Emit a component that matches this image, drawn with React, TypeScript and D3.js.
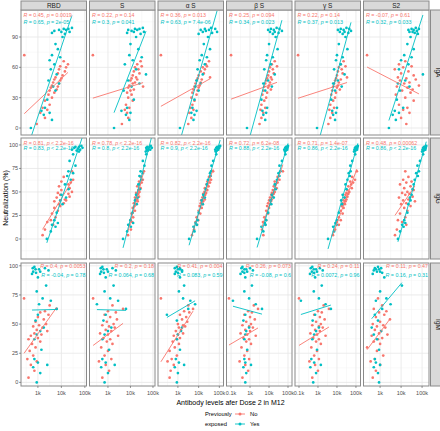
import React from "react";
import * as d3 from "d3";

// ---------- categories ----------
const antigens = ["RBD", "S", "α S", "β S", "γ S", "S2"];
const isotypes = ["IgA", "IgG", "IgM"];
const groupNames = ["No", "Yes"];
const groupColors = ["#F8766D", "#00BFC4"];

// ---------- neutralization (%) per subject (shared by all panels) ----------
const neutNo = [72, 66, 63, 61, 60, 58, 56, 54, 52, 50, 49, 48, 47, 45, 44, 42, 41, 40, 38, 37, 35, 33, 30, 27, 23, 20, 18, 15, 10, 4];
const neutYes = [99, 98, 98, 97, 97, 96, 95, 95, 94, 93, 90, 83, 78, 72, 70, 67, 63, 58, 53, 47, 44, 41, 37, 28, 20, 17, 15, 13, 8, 0];

// ---------- antibody levels (log10) per subject ----------
const igaRbdNo = [2.42, 4.1, 4.28, 3.95, 4.2, 3.9, 4.15, 3.85, 4.05, 3.75, 4.0, 3.7, 3.95, 3.65, 3.9, 3.6, 3.85, 3.55, 3.8, 3.5, 3.7, 3.45, 3.6, 3.3, 3.5, 3.2, 3.4, 3.1, 3.3, 2.95];
const igaRbdYes = [4.45, 4.1, 4.3, 3.9, 4.2, 3.7, 4.35, 4.0, 3.6, 4.15, 4.05, 3.75, 3.85, 3.6, 3.95, 3.5, 3.7, 3.55, 3.8, 3.45, 3.9, 3.65, 3.75, 3.4, 3.3, 3.15, 3.5, 3.25, 3.6, 2.7];
const igaSNo = [2.33, 4.45, 4.3, 4.5, 4.2, 4.35, 4.15, 4.4, 4.1, 4.25, 4.05, 4.3, 4.0, 4.2, 4.1, 3.95, 4.56, 3.9, 4.15, 4.0, 3.85, 4.05, 3.9, 4.1, 3.8, 3.95, 3.75, 3.85, 3.9, 3.62];
const igaSYes = [4.55, 4.2, 4.4, 3.9, 4.3, 4.05, 4.6, 4.15, 3.85, 4.45, 4.25, 4.0, 4.35, 3.95, 4.5, 4.1, 3.75, 4.25, 4.69, 3.9, 4.4, 4.05, 3.7, 4.15, 3.85, 3.6, 4.0, 3.8, 3.95, 3.27];
const igaAlphaNo = [2.18, 4.5, 4.35, 4.4, 4.2, 4.3, 4.1, 4.25, 4.0, 4.55, 3.95, 4.15, 3.9, 4.1, 3.85, 4.05, 3.8, 4.0, 3.75, 3.95, 3.7, 3.9, 3.65, 3.8, 3.7, 3.6, 3.75, 3.55, 3.65, 3.5];
const igaAlphaYes = [4.6, 4.3, 4.8, 4.1, 4.5, 4.35, 4.89, 4.2, 4.65, 4.0, 4.45, 4.25, 4.55, 4.15, 4.4, 4.05, 4.3, 3.95, 4.2, 3.9, 4.1, 3.85, 4.0, 3.8, 3.7, 3.9, 3.65, 3.8, 3.75, 3.1];
const igaBetaNo = [2.0, 4.3, 4.15, 4.42, 4.05, 4.2, 4.0, 4.25, 3.95, 4.1, 3.9, 4.15, 3.85, 4.05, 3.8, 4.0, 3.75, 3.95, 4.1, 3.7, 3.9, 3.65, 3.85, 3.75, 3.6, 3.8, 3.55, 3.7, 3.6, 3.5];
const igaBetaYes = [4.4, 4.1, 4.55, 4.25, 3.95, 4.68, 4.3, 4.05, 4.5, 4.2, 4.35, 4.0, 4.45, 3.9, 4.2, 3.85, 4.1, 3.75, 4.3, 3.95, 3.7, 4.15, 3.8, 3.6, 3.9, 3.65, 3.85, 3.7, 3.8, 2.84];
const igaGammaNo = [1.95, 4.35, 4.2, 4.45, 4.1, 4.25, 4.05, 4.3, 4.0, 4.53, 3.95, 4.2, 3.9, 4.1, 3.85, 4.05, 3.8, 4.0, 4.15, 3.75, 3.95, 3.7, 3.9, 3.8, 3.65, 3.85, 3.6, 3.75, 3.65, 3.55];
const igaGammaYes = [4.5, 4.2, 4.65, 4.35, 4.05, 4.74, 4.4, 4.15, 4.6, 4.3, 4.45, 4.1, 4.55, 4.0, 4.3, 3.95, 4.2, 3.85, 4.4, 4.05, 3.8, 4.25, 3.9, 3.7, 4.0, 3.75, 3.95, 3.8, 3.9, 2.95];
const igaS2No = [2.38, 4.2, 3.9, 4.5, 4.1, 3.7, 4.35, 4.0, 4.6, 3.85, 4.25, 4.7, 3.95, 4.4, 4.15, 4.85, 3.8, 4.3, 4.55, 4.05, 4.45, 3.75, 4.2, 4.6, 3.9, 4.3, 4.1, 4.4, 4.0, 4.25];
const igaS2Yes = [4.7, 4.5, 4.85, 4.6, 4.35, 4.75, 4.55, 4.4, 4.65, 4.8, 4.45, 4.3, 4.6, 4.15, 4.5, 4.0, 4.35, 3.9, 5.04, 4.2, 3.85, 4.4, 3.95, 3.8, 4.1, 3.7, 3.9, 3.6, 3.75, 3.42];

const iggRbdNo = [4.45, 4.1, 4.5, 4.0, 4.4, 4.3, 3.9, 4.35, 4.0, 4.45, 3.85, 4.3, 3.95, 4.35, 3.8, 4.15, 4.2, 3.7, 4.1, 3.9, 3.95, 3.7, 3.85, 3.6, 3.75, 3.55, 3.4, 3.65, 3.3, 3.2];
const iggRbdYes = [4.85, 4.6, 4.75, 4.9, 4.55, 4.7, 4.8, 4.45, 4.65, 4.75, 4.5, 4.35, 4.6, 4.3, 4.5, 4.25, 4.4, 4.15, 4.3, 4.0, 4.2, 3.95, 4.05, 3.8, 3.7, 3.85, 3.6, 3.75, 3.55, 3.38];
const iggSNo = [4.6, 4.45, 4.55, 4.38, 4.5, 4.4, 4.3, 4.45, 4.35, 4.4, 4.25, 4.35, 4.28, 4.38, 4.2, 4.3, 4.22, 4.32, 4.15, 4.25, 4.18, 4.1, 4.2, 4.05, 4.12, 4.0, 4.08, 3.95, 4.02, 3.89];
const iggSYes = [4.9, 4.75, 4.85, 4.7, 4.95, 4.8, 4.72, 4.88, 4.78, 4.68, 4.7, 4.55, 4.62, 4.45, 4.55, 4.4, 4.48, 4.35, 4.42, 4.25, 4.32, 4.2, 4.28, 4.1, 4.0, 4.12, 3.9, 4.02, 3.85, 3.67];
const iggAlphaNo = [4.7, 4.5, 4.6, 4.42, 4.55, 4.38, 4.48, 4.3, 4.42, 4.28, 4.36, 4.22, 4.32, 4.25, 4.18, 4.3, 4.12, 4.22, 4.1, 4.2, 4.05, 4.15, 4.0, 4.08, 3.9, 3.98, 3.85, 3.92, 3.78, 3.68];
const iggAlphaYes = [5.04, 4.9, 4.97, 4.85, 5.0, 4.92, 4.8, 4.95, 4.88, 4.82, 4.85, 4.7, 4.62, 4.6, 4.55, 4.58, 4.45, 4.4, 4.35, 4.22, 4.3, 4.15, 4.2, 4.0, 3.95, 3.85, 3.92, 3.75, 3.8, 3.54];
const iggBetaNo = [4.73, 4.45, 4.55, 4.3, 4.45, 4.35, 4.25, 4.4, 4.2, 4.3, 4.15, 4.25, 4.12, 4.2, 4.05, 4.15, 4.0, 4.1, 3.95, 4.05, 3.9, 4.0, 3.85, 3.95, 3.75, 3.85, 3.68, 3.8, 3.63, 3.7];
const iggBetaYes = [5.0, 4.9, 4.95, 4.85, 4.98, 4.92, 4.8, 4.96, 4.88, 4.84, 4.86, 4.68, 4.55, 4.6, 4.5, 4.55, 4.42, 4.3, 4.35, 4.15, 4.25, 4.08, 4.12, 3.95, 3.85, 3.78, 3.82, 3.6, 3.7, 3.37];
const iggGammaNo = [5.05, 4.8, 4.95, 4.7, 4.85, 4.75, 4.6, 4.78, 4.55, 4.65, 4.5, 4.6, 4.45, 4.55, 4.4, 4.5, 4.35, 4.45, 4.3, 4.42, 4.25, 4.35, 4.2, 4.3, 4.1, 4.2, 4.0, 4.1, 3.9, 3.79];
const iggGammaYes = [5.1, 5.0, 5.05, 4.95, 5.08, 5.02, 4.92, 5.06, 4.98, 4.9, 4.96, 4.8, 4.7, 4.72, 4.62, 4.68, 4.55, 4.45, 4.5, 4.3, 4.4, 4.22, 4.28, 4.1, 4.0, 3.92, 3.98, 3.8, 3.85, 3.53];
const iggS2No = [4.2, 4.35, 4.1, 4.5, 4.25, 3.95, 4.45, 4.15, 4.6, 4.3, 4.05, 4.4, 4.2, 4.55, 3.9, 4.35, 4.1, 4.66, 4.25, 4.0, 4.45, 4.15, 4.3, 3.95, 4.2, 3.85, 4.05, 4.25, 3.8, 3.71];
const iggS2Yes = [5.2, 5.1, 5.15, 5.05, 5.18, 5.12, 5.02, 5.16, 5.08, 5.0, 5.05, 4.9, 4.78, 4.85, 4.72, 4.8, 4.65, 4.6, 4.55, 4.5, 4.42, 4.45, 4.35, 4.3, 4.15, 4.2, 4.05, 4.12, 3.95, 3.85];

const igmRbdNo = [2.41, 3.5, 3.79, 3.3, 3.1, 3.45, 3.0, 3.25, 2.9, 3.35, 3.05, 2.8, 3.2, 2.95, 3.4, 2.85, 3.15, 2.7, 3.0, 2.6, 3.1, 2.75, 2.9, 2.65, 2.8, 2.55, 2.95, 2.7, 2.85, 2.6];
const igmRbdYes = [2.85, 3.3, 2.78, 3.05, 2.9, 3.45, 2.8, 3.1, 2.92, 2.75, 3.0, 3.35, 2.95, 3.2, 3.55, 3.05, 3.8, 3.0, 2.9, 3.25, 3.1, 2.95, 2.85, 3.15, 2.85, 3.0, 3.4, 2.8, 3.1, 2.95];
const igmSNo = [2.34, 3.2, 3.67, 3.0, 3.35, 2.85, 3.1, 3.4, 2.95, 3.25, 2.75, 3.05, 3.3, 2.9, 3.15, 2.65, 3.0, 3.45, 2.8, 3.1, 2.95, 3.2, 2.7, 3.0, 2.85, 3.15, 2.6, 2.9, 3.05, 2.75];
const igmSYes = [2.75, 3.2, 2.68, 2.95, 2.8, 3.35, 2.7, 3.0, 2.82, 2.65, 2.9, 3.25, 2.85, 3.1, 3.45, 2.51, 3.8, 2.9, 2.8, 3.15, 3.0, 2.85, 2.75, 3.05, 2.75, 2.9, 3.3, 2.7, 3.0, 2.85];
const igmAlphaNo = [2.18, 3.5, 3.73, 3.3, 3.55, 3.1, 3.4, 3.2, 3.45, 3.0, 3.25, 3.35, 3.05, 3.15, 2.9, 3.25, 3.0, 2.8, 3.1, 2.95, 2.75, 3.05, 2.85, 2.6, 2.95, 2.7, 2.5, 2.8, 2.65, 2.6];
const igmAlphaYes = [2.95, 3.1, 2.85, 3.1, 3.0, 3.2, 2.9, 3.2, 3.0, 2.85, 3.1, 3.3, 3.05, 3.25, 3.6, 3.83, 3.5, 2.47, 2.95, 3.2, 3.15, 3.0, 2.95, 3.1, 2.9, 3.05, 3.3, 2.85, 3.0, 2.95];
const igmBetaNo = [1.89, 3.2, 3.42, 2.9, 3.1, 2.7, 3.0, 3.25, 2.8, 3.05, 2.6, 2.95, 3.15, 2.75, 3.0, 2.5, 2.85, 3.3, 2.65, 2.95, 2.8, 3.05, 2.55, 2.85, 2.7, 2.95, 2.45, 2.75, 2.9, 2.6];
const igmBetaYes = [2.6, 3.0, 2.55, 2.8, 2.7, 3.15, 2.6, 2.85, 2.7, 2.5, 2.75, 3.1, 2.7, 2.95, 2.1, 3.3, 3.63, 2.75, 2.65, 2.95, 2.8, 2.75, 2.7, 2.85, 2.7, 2.75, 3.05, 2.65, 2.8, 2.75];
const igmGammaNo = [2.0, 3.3, 3.58, 3.0, 3.2, 2.8, 3.1, 3.35, 2.9, 3.15, 2.7, 3.05, 3.25, 2.85, 3.1, 2.6, 2.95, 3.4, 2.75, 3.05, 2.9, 3.15, 2.65, 2.95, 2.8, 3.05, 2.55, 2.85, 3.0, 2.7];
const igmGammaYes = [2.7, 3.1, 2.62, 2.9, 2.78, 3.25, 2.68, 2.95, 2.8, 2.58, 2.85, 3.2, 2.78, 3.05, 2.1, 3.4, 3.68, 2.85, 2.72, 3.05, 2.9, 2.8, 2.7, 2.95, 2.65, 2.8, 3.15, 2.6, 2.9, 2.75];
const igmS2No = [2.9, 3.1, 2.7, 3.3, 2.95, 3.2, 2.8, 3.47, 3.0, 2.65, 3.15, 2.85, 3.25, 2.75, 3.05, 2.95, 3.35, 2.6, 3.1, 2.9, 2.7, 3.0, 2.38, 2.85, 3.15, 2.75, 2.55, 3.0, 2.8, 2.65];
const igmS2Yes = [2.9, 2.75, 3.05, 2.8, 2.95, 2.7, 3.0, 2.85, 3.1, 2.65, 3.2, 4.04, 3.0, 3.3, 2.8, 3.5, 3.1, 2.75, 2.9, 2.6, 3.05, 2.7, 2.85, 2.95, 2.75, 2.8, 3.0, 2.7, 2.9, 2.95];

// ---------- correlation labels ----------
const igaRNo = ["0.45", "0.22", "0.36", "0.25", "0.22", "-0.07"];
const igaPNo = ["= 0.0019", "= 0.14", "= 0.013", "= 0.094", "= 0.14", "= 0.61"];
const igaRYes = ["0.65", "0.3", "0.63", "0.34", "0.37", "0.32"];
const igaPYes = ["= 2e-05", "= 0.041", "= 7.4e-06", "= 0.023", "= 0.013", "= 0.033"];
const iggRNo = ["0.81", "0.78", "0.82", "0.72", "0.71", "0.48"];
const iggPNo = ["< 2.2e-16", "< 2.2e-16", "< 2.2e-16", "= 6.2e-08", "= 1.4e-07", "= 0.00062"];
const iggRYes = ["0.83", "0.8", "0.9", "0.88", "0.86", "0.86"];
const iggPYes = ["< 2.2e-16", "< 2.2e-16", "< 2.2e-16", "< 2.2e-16", "< 2.2e-16", "< 2.2e-16"];
const igmRNo = ["0.4", "0.2", "0.41", "0.26", "0.24", "0.11"];
const igmPNo = ["= 0.0053", "= 0.18", "= 0.004", "= 0.073", "= 0.11", "= 0.47"];
const igmRYes = ["-0.04", "0.064", "0.083", "-0.08", "0.0072", "0.16"];
const igmPYes = ["= 0.78", "= 0.68", "= 0.59", "= 0.6", "= 0.96", "= 0.31"];

// ---------- axis settings ----------
const xTickValues = [100, 1000, 10000, 100000];
const xTickLabels = ["0.1k", "1k", "10k", "100k"];
const yTicksIgA = [0, 30, 60, 90];
const yTicksIgGM = [0, 25, 50, 75, 100];

// table built from the arrays above
const abNo = [
  [igaRbdNo, igaSNo, igaAlphaNo, igaBetaNo, igaGammaNo, igaS2No],
  [iggRbdNo, iggSNo, iggAlphaNo, iggBetaNo, iggGammaNo, iggS2No],
  [igmRbdNo, igmSNo, igmAlphaNo, igmBetaNo, igmGammaNo, igmS2No],
];
const abYes = [
  [igaRbdYes, igaSYes, igaAlphaYes, igaBetaYes, igaGammaYes, igaS2Yes],
  [iggRbdYes, iggSYes, iggAlphaYes, iggBetaYes, iggGammaYes, iggS2Yes],
  [igmRbdYes, igmSYes, igmAlphaYes, igmBetaYes, igmGammaYes, igmS2Yes],
];
const rLabels = [
  [igaRNo, igaRYes],
  [iggRNo, iggRYes],
  [igmRNo, igmRYes],
];
const pLabels = [
  [igaPNo, igaPYes],
  [iggPNo, iggPYes],
  [igmPNo, igmPYes],
];

// ---------- layout ----------
const FONT = "'Liberation Sans', Arial, Helvetica, sans-serif";
const panelLeft0 = 21;
const panelPitch = 68.5;
const panelW = 65.5;
const rowTop = [10, 138, 263];
const rowBottom = [135, 259, 386];
const colLogDomain = [
  [2.28, 5.07],
  [2.18, 5.09],
  [2.04, 5.2],
  [1.76, 5.21],
  [1.79, 5.24],
  [2.21, 5.33],
];
const rowDomain = [
  [-6.9, 116.7],
  [-21.3, 107.4],
  [-3.1, 102.4],
];
const rowTicks = [yTicksIgA, yTicksIgGM, yTicksIgGM];

function fit(xs: number[], ys: number[]) {
  const mx = d3.mean(xs) as number;
  const my = d3.mean(ys) as number;
  let sxy = 0;
  let sxx = 0;
  xs.forEach((x, i) => {
    sxy += (x - mx) * (ys[i] - my);
    sxx += (x - mx) * (x - mx);
  });
  const b = sxy / sxx;
  const a = my - b * mx;
  const x0 = d3.min(xs) as number;
  const x1 = d3.max(xs) as number;
  return [
    [x0, a + b * x0],
    [x1, a + b * x1],
  ];
}

function CorLabel({ x, y, r, p, color, anchor }: any) {
  return (
    <text x={x} y={y} fill={color} fontSize={5.3} textAnchor={anchor} fontFamily={FONT}>
      <tspan fontStyle="italic">R</tspan>
      {` = ${r}, `}
      <tspan fontStyle="italic">p</tspan>
      {` ${p}`}
    </text>
  );
}

export default function App() {
  const panels: any[] = [];
  isotypes.forEach((iso, r) => {
    antigens.forEach((ag, c) => {
      const left = panelLeft0 + c * panelPitch;
      const right = left + panelW;
      const top = rowTop[r];
      const bottom = rowBottom[r];
      const [lo, hi] = colLogDomain[c];
      const x = d3.scaleLog().domain([Math.pow(10, lo), Math.pow(10, hi)]).range([left, right]);
      const y = d3.scaleLinear().domain(rowDomain[r]).range([bottom, top]);
      const majorX = xTickValues.filter((v) => v >= x.domain()[0] && v <= x.domain()[1]);
      const minorX = [2.5, 3.5, 4.5, 5.5]
        .map((e) => Math.pow(10, e))
        .filter((v) => v >= x.domain()[0] && v <= x.domain()[1]);
      const ticks = rowTicks[r];
      const step = ticks[1] - ticks[0];
      const minorY = [ticks[0] - step / 2, ...ticks.map((t) => t + step / 2)].filter(
        (v) => v >= rowDomain[r][0] && v <= rowDomain[r][1]
      );
      const clipId = `clip-${r}-${c}`;
      const groupsData = [
        { xs: abNo[r][c], ys: neutNo, color: groupColors[0] },
        { xs: abYes[r][c], ys: neutYes, color: groupColors[1] },
      ];
      const line = d3
        .line<number[]>()
        .x((d) => x(Math.pow(10, d[0])))
        .y((d) => y(d[1]));
      panels.push(
        <g key={clipId}>
          <defs>
            <clipPath id={clipId}>
              <rect x={left} y={top} width={right - left} height={bottom - top} />
            </clipPath>
          </defs>
          <rect x={left} y={top} width={right - left} height={bottom - top} fill="#fff" />
          {minorX.map((v) => (
            <line key={"mx" + v} x1={x(v)} x2={x(v)} y1={top} y2={bottom} stroke="#f2f2f2" strokeWidth={0.5} />
          ))}
          {minorY.map((v) => (
            <line key={"my" + v} x1={left} x2={right} y1={y(v)} y2={y(v)} stroke="#f2f2f2" strokeWidth={0.5} />
          ))}
          {majorX.map((v) => (
            <line key={"Mx" + v} x1={x(v)} x2={x(v)} y1={top} y2={bottom} stroke="#e6e6e6" strokeWidth={0.8} />
          ))}
          {ticks.map((v) => (
            <line key={"My" + v} x1={left} x2={right} y1={y(v)} y2={y(v)} stroke="#e6e6e6" strokeWidth={0.8} />
          ))}
          <g clipPath={`url(#${clipId})`}>
            {groupsData.map((g, gi) =>
              g.xs.map((lx, i) => (
                <circle key={`p${gi}-${i}`} cx={x(Math.pow(10, lx))} cy={y(g.ys[i])} r={1.35} fill={g.color} />
              ))
            )}
            {groupsData.map((g, gi) => (
              <path key={`l${gi}`} d={line(fit(g.xs, g.ys)) as string} stroke={g.color} strokeWidth={0.9} fill="none" />
            ))}
            {r < 2 ? (
              <>
                <CorLabel x={left + 2.5} y={top + (r === 0 ? 6.5 : 7)} r={rLabels[r][0][c]} p={pLabels[r][0][c]} color={groupColors[0]} anchor="start" />
                <CorLabel x={left + 2.5} y={top + (r === 0 ? 13.5 : 12)} r={rLabels[r][1][c]} p={pLabels[r][1][c]} color={groupColors[1]} anchor="start" />
              </>
            ) : (
              <>
                <CorLabel x={right - 1} y={top + 5} r={rLabels[r][0][c]} p={pLabels[r][0][c]} color={groupColors[0]} anchor="end" />
                <CorLabel x={right - 1} y={top + 14} r={rLabels[r][1][c]} p={pLabels[r][1][c]} color={groupColors[1]} anchor="end" />
              </>
            )}
          </g>
          <rect x={left} y={top} width={right - left} height={bottom - top} fill="none" stroke="#8a8a8a" strokeWidth={1} />
          {c === 0 &&
            ticks.map((v) => (
              <g key={"yt" + v}>
                <line x1={left - 2} x2={left} y1={y(v)} y2={y(v)} stroke="#555" strokeWidth={0.6} />
                <text x={left - 2.8} y={y(v) + 1.9} fontSize={5.5} fill="#4d4d4d" textAnchor="end" fontFamily={FONT}>
                  {v}
                </text>
              </g>
            ))}
          {r === 2 &&
            majorX.map((v) => (
              <g key={"xt" + v}>
                <line x1={x(v)} x2={x(v)} y1={bottom} y2={bottom + 2} stroke="#555" strokeWidth={0.6} />
                <text x={x(v)} y={bottom + 8.5} fontSize={5.5} fill="#4d4d4d" textAnchor="middle" fontFamily={FONT}>
                  {xTickLabels[xTickValues.indexOf(v)]}
                </text>
              </g>
            ))}
          {r === 0 && (
            <g>
              <rect x={left} y={1} width={right - left} height={top - 1} fill="#d9d9d9" stroke="#8a8a8a" strokeWidth={1} />
              <text x={(left + right) / 2} y={8} fontSize={6.5} fill="#1a1a1a" textAnchor="middle" fontFamily={FONT}>
                {ag}
              </text>
            </g>
          )}
          {c === 5 && (
            <g>
              <rect x={right + 1.5} y={top} width={14} height={bottom - top} fill="#d9d9d9" stroke="#8a8a8a" strokeWidth={1} />
              <text
                transform={`translate(${right + 6.5},${(top + bottom) / 2}) rotate(90)`}
                fontSize={6.5}
                fill="#1a1a1a"
                textAnchor="middle"
                fontFamily={FONT}
              >
                {iso}
              </text>
            </g>
          )}
        </g>
      );
    });
  });

  return (
    <svg width={440} height={431} style={{ position: "absolute", left: 0, top: 0 }} fontFamily={FONT}>
      <rect x={0} y={0} width={440} height={431} fill="#fff" />
      {panels}
      <text transform="translate(8,198) rotate(-90)" fontSize={7} fill="#000" textAnchor="middle">
        Neutralization (%)
      </text>
      <text x={230.5} y={405} fontSize={7} fill="#000" textAnchor="middle">
        Antibody levels afer Dose 2 in M12
      </text>
      <text x={205} y={416} fontSize={5.8} fill="#000">Previously</text>
      <text x={205} y={425.5} fontSize={5.8} fill="#000">exposed</text>
      {groupNames.map((g, i) => (
        <g key={g}>
          <line x1={235} x2={245} y1={414 + i * 10} y2={414 + i * 10} stroke={groupColors[i]} strokeWidth={0.9} />
          <circle cx={240} cy={414 + i * 10} r={1.5} fill={groupColors[i]} />
          <text x={250} y={416 + i * 10} fontSize={5.8} fill="#000">
            {g}
          </text>
        </g>
      ))}
    </svg>
  );
}
